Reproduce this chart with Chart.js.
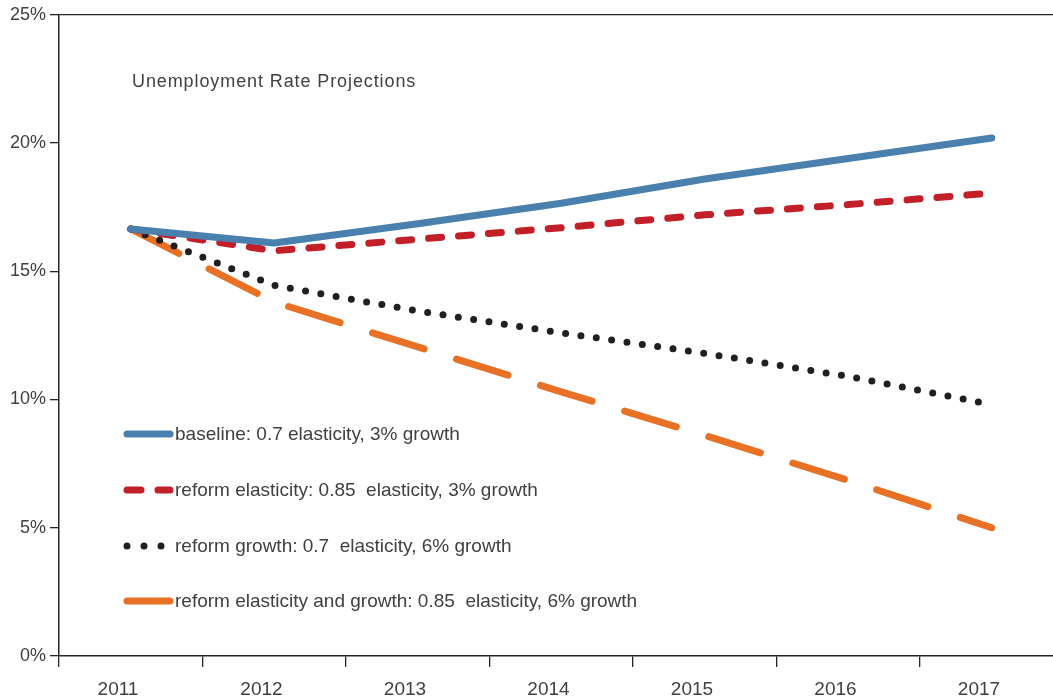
<!DOCTYPE html>
<html>
<head>
<meta charset="utf-8">
<script src="https://cdn.jsdelivr.net/npm/chart.js@4.4.1/dist/chart.umd.min.js"></script>
<style>
  html, body { margin: 0; padding: 0; background: #fff; overflow: hidden; }
  #wrap { width: 1053px; height: 700px; position: relative; }
</style>
</head>
<body>
<div id="wrap"><canvas id="unempChart"></canvas></div>
<script>
// years on the x axis
const years = [2011, 2012, 2013, 2014, 2015, 2016, 2017];
// unemployment rate (%)
const baseline = [16.65, 16.1, 16.85, 17.65, 18.6, 19.4, 20.2];
const reformElasticity = [16.65, 15.8, 16.25, 16.7, 17.2, 17.6, 18.05];
const reformGrowth = [16.65, 14.45, 13.45, 12.6, 11.8, 10.9, 9.8];
const reformBoth = [16.65, 13.8, 12.05, 10.3, 8.6, 6.85, 5.0];
const yTicks = [0, 5, 10, 15, 20, 25];
const legendLabels = [
  'baseline: 0.7 elasticity, 3% growth',
  'reform elasticity: 0.85  elasticity, 3% growth',
  'reform growth: 0.7  elasticity, 6% growth',
  'reform elasticity and growth: 0.85  elasticity, 6% growth'
];

const toPoints = vals => vals.map((v, i) => ({ x: years[i], y: v }));

const axisColor = '#262626';
const textColor = '#404040';

// legend + title drawn inside the plot area
const insideLegend = {
  id: 'insideLegend',
  afterDraw(chart) {
    const c = chart.ctx;
    const left = chart.chartArea.left;
    c.save();
    c.fillStyle = textColor;
    c.font = '18px "Liberation Sans", Arial, sans-serif';
    c.textBaseline = 'middle';
    c.letterSpacing = '0.9px';
    c.fillText('Unemployment Rate Projections', left + 73, 82);
    c.letterSpacing = '0px';

    const rows = [434, 490, 546, 601];
    chart.data.datasets.forEach((ds, i) => {
      const y = rows[i];
      c.strokeStyle = ds.borderColor;
      c.lineWidth = 7;
      c.lineCap = 'round';
      c.setLineDash(ds.legendDash || []);
      c.beginPath();
      c.moveTo(left + 68, y);
      c.lineTo(left + 111, y);
      c.stroke();
      c.setLineDash([]);
      c.fillStyle = textColor;
      c.font = '19px "Liberation Sans", Arial, sans-serif';
      c.fillText(ds.label, left + 116, y + 1);
    });
    c.restore();
  }
};

const ctx = document.getElementById('unempChart').getContext('2d');
const chart = new Chart(ctx, {
  type: 'line',
  data: {
    datasets: [{
      label: legendLabels[0],
      data: toPoints(baseline),
      borderColor: '#4a80ae',
      borderWidth: 7,
      legendDash: []
    }, {
      label: legendLabels[1],
      data: toPoints(reformElasticity),
      borderColor: '#c31f28',
      borderWidth: 7,
      borderDash: [13, 17],
      legendDash: [14, 17]
    }, {
      label: legendLabels[2],
      data: toPoints(reformGrowth),
      borderColor: '#231f20',
      borderWidth: 7,
      borderDash: [0, 15.5],
      legendDash: [0, 17]
    }, {
      label: legendLabels[3],
      data: toPoints(reformBoth),
      borderColor: '#e87126',
      borderWidth: 7,
      borderDash: [54, 34],
      legendDash: []
    }]
  },
  options: {
    responsive: true,
    maintainAspectRatio: false,
    animation: false,
    layout: { padding: { top: 13, right: 0, left: 0, bottom: 0 } },
    elements: {
      point: { radius: 0, hoverRadius: 0 },
      line: { tension: 0, borderCapStyle: 'round', borderJoinStyle: 'round' }
    },
    plugins: {
      legend: { display: false },
      tooltip: { enabled: false }
    },
    scales: {
      x: {
        type: 'linear',
        min: 2010.5,
        max: 2010.5 + 994 / 143.5,
        afterFit: s => { s.height = 44; },
        afterBuildTicks: s => { s.ticks = years.map(y => ({ value: y - 0.5 })); },
        ticks: {
          autoSkip: false,
          maxRotation: 0,
          labelOffset: 59,
          padding: 11,
          color: textColor,
          font: { family: '"Liberation Sans", Arial, sans-serif', size: 19 },
          callback: v => String(v + 0.5)
        },
        grid: {
          drawOnChartArea: false,
          tickLength: 11,
          color: axisColor,
          lineWidth: 1.3
        },
        border: { display: true, color: axisColor, width: 1.5 }
      },
      y: {
        min: 0,
        max: 25,
        afterFit: s => { s.width = 59; },
        afterBuildTicks: s => { s.ticks = yTicks.map(v => ({ value: v })); },
        ticks: {
          padding: 4,
          color: textColor,
          font: { family: '"Liberation Sans", Arial, sans-serif', size: 18 },
          callback: v => v + '%'
        },
        grid: {
          drawOnChartArea: true,
          tickLength: 9,
          lineWidth: 1.3,
          color: c => (c.tick && c.tick.value === 25) ? axisColor : 'rgba(0,0,0,0)',
          tickColor: axisColor
        },
        border: { display: true, color: axisColor, width: 1.5 }
      }
    }
  },
  plugins: [insideLegend]
});
</script>
</body>
</html>
